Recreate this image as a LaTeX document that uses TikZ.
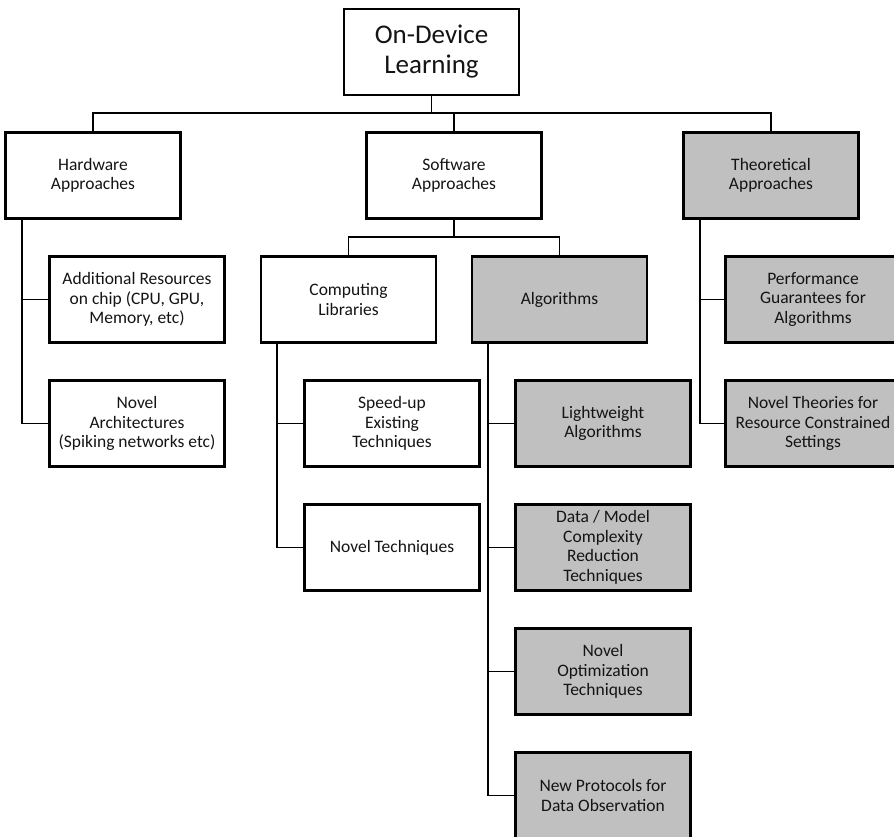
\documentclass[tikz,border=0pt]{standalone}
\usepackage{fontspec}
\setmainfont{Carlito}
\definecolor{boxgray}{RGB}{192,192,192}
\definecolor{txt}{RGB}{20,20,20}
\begin{document}
\begin{tikzpicture}[x=1pt,y=-1pt,
  box/.style={draw=black, line width=2.2pt, minimum width=175pt, minimum height=86pt,
    inner sep=0pt, align=center, text=txt, font=\fontsize{17.5}{19.6}\selectfont},
  graybox/.style={box, fill=boxgray},
  link/.style={draw=black, line width=1.4pt}]
\useasboundingbox (0,0) rectangle (894,837);
\clip (0,0) rectangle (894,837);
% nodes
\node[box, font=\fontsize{27}{30}\selectfont] (top) at (431.5,52) {On-Device\\Learning};
\node[box] (hw) at (93,175.5) {Hardware\\Approaches};
\node[box] (sw) at (454,175.5) {Software\\Approaches};
\node[graybox] (th) at (771,175.5) {Theoretical\\Approaches};
\node[box] (add) at (137,299.5) {Additional Resources\\on chip (CPU, GPU,\\Memory, etc)};
\node[box] (arch) at (137,423.5) {Novel\\Architectures\\(Spiking networks etc)};
\node[box] (comp) at (348.5,299.5) {Computing\\Libraries};
\node[graybox] (alg) at (559.5,299.5) {Algorithms};
\node[box] (speed) at (392,423.5) {Speed-up\\Existing\\Techniques};
\node[box] (novtech) at (392,547.5) {Novel Techniques};
\node[graybox] (light) at (603,423.5) {Lightweight\\Algorithms};
\node[graybox] (data) at (603,547.5) {Data / Model\\Complexity\\Reduction\\Techniques};
\node[graybox] (opt) at (603,671.5) {Novel\\Optimization\\Techniques};
\node[graybox] (proto) at (603,795.5) {New Protocols for\\Data Observation};
\node[graybox] (perf) at (813,299.5) {Performance\\Guarantees for\\Algorithms};
\node[graybox] (theo) at (813,423.5) {Novel Theories for\\Resource Constrained\\Settings};
% coordinates
\coordinate (bus1l) at (93,113);
\coordinate (bus1r) at (771,113);
\coordinate (bus2l) at (348.5,237);
\coordinate (bus2r) at (559.5,237);
% connectors
\draw[link] (top.south) -- (top.south |- bus1l);
\draw[link] (hw.north) -- (bus1l) -- (bus1r) -- (th.north);
\draw[link] (sw.north) -- (sw.north |- bus1l);
\draw[link] (sw.south) -- (sw.south |- bus2l);
\draw[link] (comp.north) -- (bus2l) -- (bus2r) -- (alg.north);
\draw[link] ([xshift=17.5pt]hw.south west) |- (arch.west);
\draw[link] ([xshift=17.5pt]hw.south west |- add.west) -- (add.west);
\draw[link] ([xshift=17pt]comp.south west) |- (novtech.west);
\draw[link] ([xshift=17pt]comp.south west |- speed.west) -- (speed.west);
\draw[link] ([xshift=17pt]alg.south west) |- (proto.west);
\draw[link] ([xshift=17pt]alg.south west |- light.west) -- (light.west);
\draw[link] ([xshift=17pt]alg.south west |- data.west) -- (data.west);
\draw[link] ([xshift=17pt]alg.south west |- opt.west) -- (opt.west);
\draw[link] ([xshift=17.5pt]th.south west) |- (theo.west);
\draw[link] ([xshift=17.5pt]th.south west |- perf.west) -- (perf.west);
\end{tikzpicture}
\end{document}
